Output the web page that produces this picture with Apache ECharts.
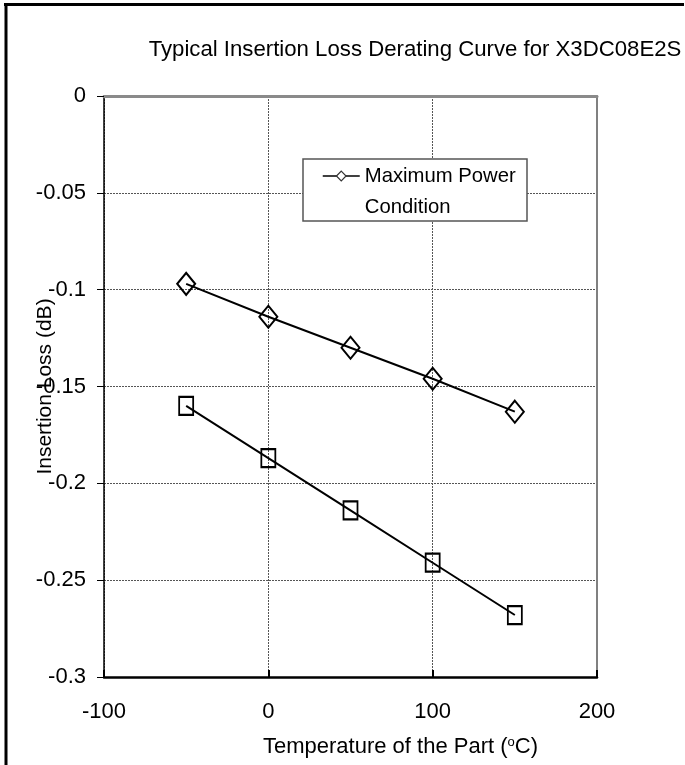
<!DOCTYPE html>
<html>
<head>
<meta charset="utf-8">
<script src="https://cdn.jsdelivr.net/npm/echarts@6/dist/echarts.min.js"></script>
<style>
html,body{margin:0;padding:0;background:#fff;}
#chart{width:685px;height:765px;}
</style>
</head>
<body>
<div id="chart"></div>
<script>
// ---- data ----
var temperatures = [-50, 0, 50, 100, 150];
var maxPowerLoss = [-0.097, -0.114, -0.130, -0.146, -0.163];
var secondLoss = [-0.160, -0.187, -0.214, -0.241, -0.268];
var xTicks = [-100, 0, 100, 200];
var yTicks = [0, -0.05, -0.1, -0.15, -0.2, -0.25, -0.3];
var titleText = 'Typical Insertion Loss Derating Curve for X3DC08E2S';
var legendName = 'Maximum Power Condition';

var FONT = "'Liberation Sans Narrow', 'Arial Narrow', 'Liberation Sans', Arial, sans-serif";

function pairs(xs, ys) {
  return xs.map(function (x, i) { return [x, ys[i]]; });
}

var chart = echarts.init(document.getElementById('chart'), null, {renderer: 'canvas'});

var option = {
  backgroundColor: '#ffffff',
  animation: false,
  title: {
    text: titleText,
    left: 415,
    top: 39,
    padding: 0,
    textAlign: 'center',
    textStyle: {fontFamily: FONT, fontSize: 22.2, fontWeight: 'normal', color: '#000'}
  },
  legend: {
    data: [legendName],
    left: 322,
    top: 129.5,
    padding: 0,
    itemWidth: 37,
    itemHeight: 12,
    selectedMode: false,
    formatter: function () { return ' \nMaximum Power\nCondition'; },
    textStyle: {fontFamily: FONT, fontSize: 20.3, color: '#000', lineHeight: 31},
    itemStyle: {color: '#fff', borderColor: '#333', borderWidth: 1.2},
    lineStyle: {color: '#000', width: 1.5}
  },
  graphic: [
    {type: 'rect', z: 3, shape: {x: 303, y: 159, width: 224, height: 62},
      style: {fill: '#fff', stroke: '#555', lineWidth: 1.5}},
    {type: 'line', z: 10, shape: {x1: 4, y1: 4.5, x2: 684, y2: 4.5},
      style: {stroke: '#000', lineWidth: 3}},
    {type: 'line', z: 10, shape: {x1: 6, y1: 3, x2: 6, y2: 765},
      style: {stroke: '#000', lineWidth: 3}}
  ],
  grid: {left: 104, top: 96, right: 88, bottom: 88, containLabel: false, outerBoundsMode: 'none'},
  xAxis: [
    {
      type: 'value', position: 'bottom',
      min: xTicks[0], max: xTicks[xTicks.length - 1], interval: 100,
      name: 'Temperature of the Part ({sup|o}C)',
      nameLocation: 'middle', nameGap: 59, nameMoveOverlap: false,
      nameTextStyle: {fontFamily: FONT, fontSize: 22, color: '#000', padding: [0, 0, 0, 100],
        rich: {sup: {fontFamily: FONT, fontSize: 13, color: '#000', verticalAlign: 'top'}}},
      axisLine: {show: true, onZero: false, lineStyle: {color: '#000', width: 2.5}},
      axisTick: {show: true, inside: true, length: 7, lineStyle: {color: '#000', width: 2}},
      axisLabel: {margin: 24, fontFamily: FONT, fontSize: 22, color: '#000'},
      splitLine: {show: true, lineStyle: {color: '#555', width: 1, type: [2, 1]}}
    },
    {
      type: 'value', position: 'top',
      min: xTicks[0], max: xTicks[xTicks.length - 1], interval: 100,
      axisLine: {show: true, onZero: false, lineStyle: {color: '#8a8a8a', width: 3}},
      axisTick: {show: false}, axisLabel: {show: false}, splitLine: {show: false}
    }
  ],
  yAxis: [
    {
      type: 'value', position: 'left',
      min: yTicks[yTicks.length - 1], max: yTicks[0], interval: 0.05,
      name: 'Insertion Loss (dB)',
      nameLocation: 'middle', nameGap: 48, nameMoveOverlap: false,
      nameTextStyle: {fontFamily: FONT, fontSize: 21, color: '#000'},
      axisLine: {show: true, onZero: false, lineStyle: {color: '#000', width: 1.5}},
      axisTick: {show: true, inside: false, length: 7, lineStyle: {color: '#000', width: 1}},
      axisLabel: {margin: 18, fontFamily: FONT, fontSize: 22, color: '#000'},
      splitLine: {show: true, lineStyle: {color: '#555', width: 1, type: [2, 1]}}
    },
    {
      type: 'value', position: 'right',
      min: yTicks[yTicks.length - 1], max: yTicks[0], interval: 0.05,
      axisLine: {show: true, onZero: false, lineStyle: {color: '#808080', width: 2}},
      axisTick: {show: false}, axisLabel: {show: false}, splitLine: {show: false}
    }
  ],
  series: [
    {
      name: legendName, type: 'line', xAxisIndex: 0, yAxisIndex: 0,
      data: pairs(temperatures, maxPowerLoss),
      symbol: 'diamond', symbolSize: [18, 22],
      lineStyle: {color: '#000', width: 2},
      itemStyle: {color: 'rgba(0,0,0,0)', borderColor: '#000', borderWidth: 2},
      emphasis: {disabled: true}
    },
    {
      name: 'Second Condition', type: 'line', xAxisIndex: 0, yAxisIndex: 0,
      data: pairs(temperatures, secondLoss),
      symbol: 'rect', symbolSize: [14, 18],
      lineStyle: {color: '#000', width: 2},
      itemStyle: {color: 'rgba(0,0,0,0)', borderColor: '#000', borderWidth: 2},
      emphasis: {disabled: true}
    }
  ]
};
chart.setOption(option);
</script>
</body>
</html>
